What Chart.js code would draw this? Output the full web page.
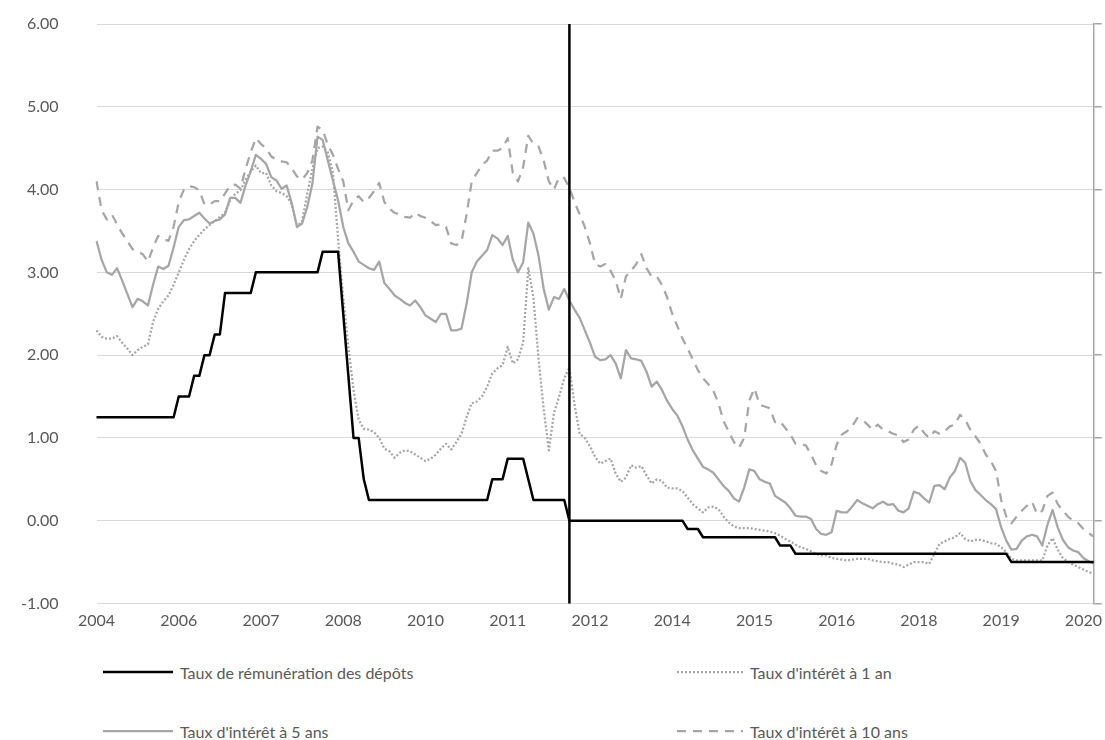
<!DOCTYPE html>
<html lang="fr">
<head>
<meta charset="utf-8">
<title>Taux</title>
<script src="https://cdn.jsdelivr.net/npm/chart.js@4.4.1/dist/chart.umd.min.js"></script>
<style>
  html, body { margin: 0; padding: 0; background: #ffffff; }
  body { width: 1105px; height: 740px; position: relative; overflow: hidden; font-family: 'Lato', 'Liberation Sans', sans-serif; }
  #wrap { position: absolute; left: 0; top: 0; width: 1105px; height: 650px; }
  .lg { position: absolute; display: flex; align-items: center; color: #595959; font-size: 16px; white-space: nowrap; }
  .lg svg { display: block; margin-right: 7px; }
</style>
</head>
<body>
<div id="wrap"><canvas id="c" width="1105" height="650"></canvas></div>
<div id="legend"></div>
<script>
// ---- data (monthly, first month = Nov 2004) ----
const startYear = 2004;
const startMonth = 11;
const tickLabels = ['2004','2006','2007','2008','2010','2011','2012','2014','2015','2016','2018','2019','2020'];
const tickEvery = 16;
const markerMonth = '2012-07';

const seriesNames = ['Taux de rémunération des dépôts', "Taux d'intérêt à 1 an", "Taux d'intérêt à 5 ans", "Taux d'intérêt à 10 ans"];

const depositRate = [
  1.25,1.25,1.25,1.25,1.25,1.25,1.25,1.25,1.25,1.25,1.25,1.25,1.25,1.25,1.25,1.25,
  1.5,1.5,1.5,1.75,1.75,2.0,2.0,2.25,2.25,
  2.75,2.75,2.75,2.75,2.75,2.75,
  3.0,3.0,3.0,3.0,3.0,3.0,3.0,3.0,3.0,3.0,3.0,3.0,3.0,
  3.25,3.25,3.25,3.25,2.5,1.75,1.0,1.0,0.5,
  0.25,0.25,0.25,0.25,0.25,0.25,0.25,0.25,0.25,0.25,0.25,0.25,0.25,0.25,0.25,0.25,0.25,0.25,0.25,0.25,0.25,0.25,0.25,0.25,
  0.5,0.5,0.5,0.75,0.75,0.75,0.75,0.5,
  0.25,0.25,0.25,0.25,0.25,0.25,0.25,
  0,0,0,0,0,0,0,0,0,0,0,0,0,0,0,0,0,0,0,0,0,0,0,
  -0.1,-0.1,-0.1,
  -0.2,-0.2,-0.2,-0.2,-0.2,-0.2,-0.2,-0.2,-0.2,-0.2,-0.2,-0.2,-0.2,-0.2,-0.2,
  -0.3,-0.3,-0.3,
  -0.4,-0.4,-0.4,-0.4,-0.4,-0.4,-0.4,-0.4,-0.4,-0.4,-0.4,-0.4,-0.4,-0.4,-0.4,-0.4,-0.4,-0.4,-0.4,-0.4,-0.4,
  -0.4,-0.4,-0.4,-0.4,-0.4,-0.4,-0.4,-0.4,-0.4,-0.4,-0.4,-0.4,-0.4,-0.4,-0.4,-0.4,-0.4,-0.4,-0.4,-0.4,-0.4,
  -0.5,-0.5,-0.5,-0.5,-0.5,-0.5,-0.5,-0.5,-0.5,-0.5,-0.5,-0.5,-0.5,-0.5,-0.5,-0.5,-0.5
];

const rate1y = [
  2.3,2.22,2.2,2.2,2.23,2.15,2.08,2.0,2.06,2.1,2.13,2.4,2.56,2.65,2.72,2.85,3.0,3.15,3.28,3.38,3.45,3.52,3.57,3.62,3.67,3.72,3.87,3.95,3.99,4.12,4.22,4.29,4.2,
  4.2,4.05,3.98,3.96,3.92,3.82,3.55,3.62,3.95,4.25,4.5,4.52,4.45,4.2,3.4,2.7,2.1,1.58,1.22,1.11,1.1,1.07,1.0,0.87,0.84,0.76,0.82,0.85,0.84,0.8,0.76,0.72,0.75,
  0.8,0.87,0.93,0.86,0.95,1.05,1.25,1.42,1.44,1.5,1.62,1.78,1.84,1.88,2.1,1.9,1.95,2.15,3.05,2.7,1.95,1.35,0.85,1.3,1.5,1.72,1.85,1.4,1.05,1.0,0.9,0.77,
  0.69,0.72,0.75,0.57,0.47,0.52,0.67,0.64,0.66,0.55,0.45,0.5,0.48,0.4,0.39,0.39,0.36,0.28,0.2,0.15,0.1,0.16,0.17,0.14,0.05,-0.02,-0.07,-0.09,-0.09,-0.09,-0.1,-0.11,-0.12,
  -0.13,-0.15,-0.18,-0.22,-0.25,-0.29,-0.32,-0.34,-0.37,-0.4,-0.42,-0.42,-0.45,-0.46,-0.47,-0.48,-0.47,-0.46,-0.46,-0.46,-0.48,-0.49,-0.5,-0.5,-0.52,-0.53,-0.56,-0.53,-0.5,-0.5,-0.5,-0.52,-0.4,
  -0.28,-0.25,-0.22,-0.2,-0.15,-0.22,-0.25,-0.23,-0.23,-0.25,-0.27,-0.28,-0.32,-0.38,-0.46,-0.48,-0.48,-0.48,-0.48,-0.48,-0.48,-0.3,-0.21,-0.35,-0.45,-0.5,-0.53,-0.56,-0.59,-0.62,-0.64
];

const rate5y = [
  3.38,3.15,3.0,2.97,3.05,2.9,2.74,2.58,2.68,2.65,2.6,2.85,3.07,3.04,3.08,3.3,3.55,3.63,3.64,3.68,3.72,3.65,3.59,3.62,3.64,3.7,3.9,3.9,3.84,4.05,4.22,4.42,4.37,
  4.31,4.15,4.11,4.01,4.05,3.83,3.55,3.59,3.79,4.07,4.64,4.6,4.35,4.11,3.87,3.55,3.35,3.25,3.13,3.09,3.05,3.03,3.13,2.87,2.8,2.72,2.68,2.63,2.6,2.66,2.58,2.48,2.44,
  2.4,2.5,2.5,2.3,2.3,2.32,2.62,3.0,3.13,3.2,3.27,3.45,3.41,3.33,3.44,3.15,3.0,3.12,3.6,3.47,3.2,2.8,2.55,2.7,2.68,2.8,2.66,2.55,2.45,2.3,2.15,1.98,
  1.94,1.95,2.0,1.9,1.72,2.06,1.96,1.95,1.93,1.8,1.62,1.68,1.58,1.45,1.35,1.27,1.14,0.98,0.85,0.75,0.65,0.62,0.58,0.5,0.42,0.36,0.27,0.23,0.4,0.62,0.6,0.5,0.47,
  0.45,0.3,0.26,0.22,0.15,0.06,0.05,0.05,0.02,-0.1,-0.16,-0.17,-0.14,0.12,0.1,0.1,0.17,0.25,0.21,0.18,0.15,0.2,0.23,0.19,0.2,0.12,0.1,0.15,0.35,0.33,0.27,0.22,0.42,
  0.43,0.38,0.52,0.6,0.76,0.7,0.48,0.37,0.31,0.25,0.2,0.14,-0.08,-0.24,-0.35,-0.34,-0.24,-0.19,-0.17,-0.19,-0.3,-0.05,0.13,-0.08,-0.23,-0.32,-0.36,-0.38,-0.45,-0.49,-0.52
];

const rate10y = [
  4.1,3.75,3.64,3.7,3.58,3.47,3.38,3.28,3.25,3.22,3.13,3.3,3.44,3.4,3.38,3.55,3.85,4.0,4.04,4.03,3.99,3.82,3.82,3.86,3.86,3.95,4.05,4.06,4.01,4.25,4.45,4.62,4.55,
  4.5,4.4,4.36,4.34,4.33,4.25,4.16,4.12,4.2,4.35,4.76,4.72,4.54,4.42,4.25,4.1,3.75,3.87,3.92,3.85,3.9,3.98,4.08,3.85,3.77,3.72,3.7,3.67,3.66,3.72,3.68,3.66,3.62,
  3.57,3.58,3.55,3.35,3.33,3.37,3.7,4.1,4.2,4.3,4.35,4.47,4.47,4.5,4.62,4.2,4.1,4.27,4.65,4.55,4.52,4.35,4.1,4.0,4.15,4.14,4.02,3.85,3.7,3.55,3.35,3.1,
  3.07,3.1,3.02,2.9,2.68,2.95,3.02,3.1,3.22,3.05,2.95,2.95,2.85,2.7,2.5,2.35,2.2,2.08,1.95,1.82,1.72,1.65,1.57,1.42,1.2,1.08,0.95,0.88,1.0,1.45,1.6,1.4,1.38,
  1.36,1.19,1.2,1.12,1.04,0.93,0.92,0.91,0.8,0.67,0.6,0.57,0.68,0.92,1.04,1.08,1.14,1.24,1.22,1.16,1.1,1.16,1.1,1.08,1.05,1.03,0.95,0.98,1.1,1.15,1.06,1.0,1.08,
  1.05,1.08,1.14,1.16,1.28,1.22,1.1,1.02,0.93,0.8,0.72,0.6,0.25,0.05,-0.03,0.05,0.12,0.18,0.23,0.08,0.12,0.3,0.34,0.2,0.12,0.05,0.0,-0.03,-0.1,-0.15,-0.19
];

const yMin = -1, yMax = 6, yStep = 1;

// ---- categories (one per month) ----
const months = depositRate.map((_, i) => {
  const m = startMonth - 1 + i;
  const y = startYear + Math.floor(m / 12);
  const mm = (m % 12) + 1;
  return y + '-' + String(mm).padStart(2, '0');
});
const markerIndex = months.indexOf(markerMonth);

const FONT = "'Lato', 'Liberation Sans', sans-serif";
const TXT = '#595959';
const GRAY = '#a6a6a6';

const styles = [
  { color: '#000000', width: 2.5, dash: [] },
  { color: GRAY, width: 2.25, dash: [2, 2] },
  { color: GRAY, width: 2.25, dash: [] },
  { color: GRAY, width: 2.25, dash: [9, 7] }
];
const seriesData = [depositRate, rate1y, rate5y, rate10y];

const datasets = seriesData.map((d, k) => ({
  label: seriesNames[k],
  data: d,
  borderColor: styles[k].color,
  backgroundColor: styles[k].color,
  borderWidth: styles[k].width,
  borderDash: styles[k].dash,
  borderCapStyle: 'butt',
  borderJoinStyle: 'round',
  pointRadius: 0,
  pointHoverRadius: 0,
  tension: 0,
  fill: false,
  yAxisID: 'y'
}));

const vlinePlugin = {
  id: 'vline',
  afterDatasetsDraw(chart) {
    const ctx = chart.ctx;
    const x = chart.scales.x.getPixelForValue(markerIndex);
    const y1 = chart.scales.y.getPixelForValue(yMax);
    const y2 = chart.scales.y.getPixelForValue(yMin);
    ctx.save();
    ctx.strokeStyle = '#000000';
    ctx.lineWidth = 2.5;
    ctx.beginPath();
    ctx.moveTo(x, y1);
    ctx.lineTo(x, y2);
    ctx.stroke();
    ctx.restore();
  }
};

function noPad(s) { s.paddingTop = 0; s.paddingBottom = 0; s.paddingLeft = 0; s.paddingRight = 0; }

new Chart(document.getElementById('c'), {
  type: 'line',
  data: { labels: months, datasets },
  options: {
    responsive: false,
    animation: false,
    devicePixelRatio: 1,
    layout: { padding: { top: 24, left: 0, right: 0, bottom: 0 } },
    plugins: { legend: { display: false }, tooltip: { enabled: false } },
    scales: {
      x: {
        type: 'category',
        offset: false,
        grid: { display: false, drawTicks: false },
        border: { display: false },
        ticks: {
          autoSkip: false, maxRotation: 0, minRotation: 0, padding: 8,
          color: TXT, font: { family: FONT, size: 16 },
          callback: (v, i) => (i % tickEvery === 0 ? tickLabels[i / tickEvery] : null)
        },
        afterFit: s => { s.height = 46.5; noPad(s); }
      },
      y: {
        min: yMin, max: yMax,
        ticks: { stepSize: yStep, callback: v => Number(v).toFixed(2), padding: 38, color: TXT, font: { family: FONT, size: 16 } },
        grid: { color: '#d9d9d9', lineWidth: 1, drawTicks: false },
        border: { display: false },
        afterFit: s => { s.width = 96.5; noPad(s); }
      },
      y2: {
        position: 'right',
        min: yMin, max: yMax,
        ticks: { stepSize: yStep, display: false },
        grid: { drawOnChartArea: false, drawTicks: true, tickLength: 8, color: GRAY, lineWidth: 1.5 },
        border: { display: true, color: GRAY, width: 1.5 },
        afterFit: s => { s.width = 11.3; noPad(s); }
      }
    }
  },
  plugins: [vlinePlugin]
});

// ---- legend (HTML, two columns) ----
const legendPos = [
  { left: 103, top: 672, w: 70 },
  { left: 677, top: 672, w: 66 },
  { left: 103, top: 731, w: 70 },
  { left: 677, top: 731, w: 66 }
];
const legendEl = document.getElementById('legend');
seriesNames.forEach((name, k) => {
  const p = legendPos[k];
  const st = styles[k];
  const item = document.createElement('div');
  item.className = 'lg';
  item.style.left = p.left + 'px';
  item.style.top = (p.top - 10) + 'px';
  item.style.height = '20px';
  item.innerHTML =
    '<svg width="' + p.w + '" height="6"><line x1="0" y1="3" x2="' + p.w + '" y2="3" stroke="' + st.color +
    '" stroke-width="' + st.width + '"' + (st.dash.length ? ' stroke-dasharray="' + st.dash.join(' ') + '"' : '') + '/></svg>' +
    '<span></span>';
  item.querySelector('span').textContent = name;
  legendEl.appendChild(item);
});
</script>
</body>
</html>
